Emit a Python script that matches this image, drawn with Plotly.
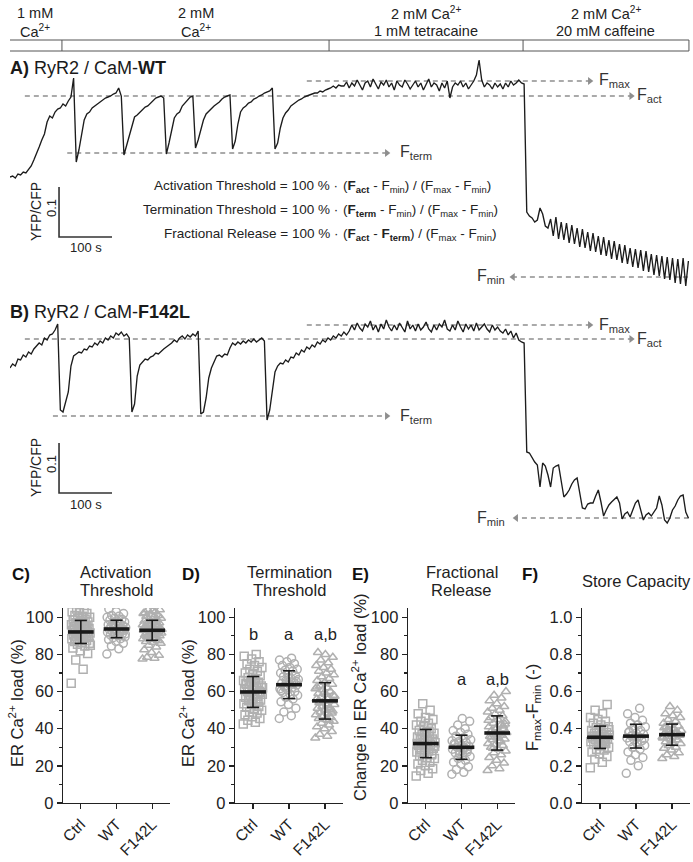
import numpy as np
import plotly.graph_objects as go

W, H = 693, 862
FONT = "Liberation Sans, Arial, Helvetica, sans-serif"

# ============================ DATA ============================
sample_interval_s = 5.0

# YFP/CFP ratio, RyR2 / CaM-WT (panel A)
ratio_wt = [
    1.046, 1.048, 1.044, 1.052, 1.050, 1.056, 1.054, 1.062, 1.068, 1.080,
    1.092, 1.106, 1.120, 1.132, 1.156, 1.168, 1.164, 1.176, 1.182, 1.184,
    1.192, 1.188, 1.198, 1.206, 1.244, 1.076, 1.100, 1.128, 1.160, 1.172,
    1.176, 1.184, 1.188, 1.192, 1.196, 1.200, 1.204, 1.206, 1.208, 1.212,
    1.214, 1.224, 1.208, 1.090, 1.108, 1.126, 1.144, 1.166, 1.170, 1.176,
    1.180, 1.186, 1.188, 1.194, 1.198, 1.204, 1.206, 1.208, 1.204, 1.092,
    1.114, 1.140, 1.164, 1.172, 1.176, 1.188, 1.194, 1.200, 1.206, 1.208,
    1.104, 1.120, 1.140, 1.160, 1.172, 1.178, 1.184, 1.188, 1.192, 1.196,
    1.202, 1.206, 1.208, 1.210, 1.102, 1.118, 1.152, 1.176, 1.184, 1.188,
    1.194, 1.196, 1.202, 1.204, 1.208, 1.210, 1.214, 1.216, 1.218, 1.224,
    1.102, 1.114, 1.144, 1.164, 1.174, 1.180, 1.188, 1.192, 1.196, 1.200,
    1.202, 1.206, 1.208, 1.210, 1.212, 1.214, 1.214, 1.218, 1.216, 1.220,
    1.222, 1.224, 1.228, 1.224, 1.230, 1.228,
    1.228, 1.236, 1.224, 1.234, 1.228, 1.240, 1.230, 1.220, 1.234, 1.238,
    1.226, 1.242, 1.232, 1.222, 1.236, 1.230, 1.240, 1.226, 1.234, 1.220,
    1.238, 1.230, 1.226, 1.240, 1.232, 1.222, 1.230, 1.238, 1.226, 1.234,
    1.220, 1.230, 1.242, 1.226, 1.234, 1.230, 1.218, 1.234, 1.224, 1.238,
    1.204, 1.226, 1.234, 1.230, 1.238, 1.226, 1.234, 1.222, 1.230, 1.238,
    1.250, 1.280, 1.240, 1.226, 1.234, 1.230, 1.222, 1.234, 1.226, 1.232,
    1.222, 1.234, 1.226, 1.238, 1.230, 1.234, 1.240, 1.234,
    1.232, 0.976,
    0.968, 0.964, 0.956, 0.960, 0.984, 0.972, 0.948, 0.944,
    0.962, 0.928, 0.966, 0.922, 0.956, 0.920, 0.954, 0.914, 0.950, 0.912,
    0.944, 0.906, 0.942, 0.904, 0.936, 0.898, 0.934, 0.896, 0.928, 0.890,
    0.926, 0.888, 0.920, 0.882, 0.918, 0.880, 0.912, 0.874, 0.910, 0.872,
    0.904, 0.866, 0.902, 0.864, 0.900, 0.858, 0.898, 0.856, 0.892, 0.850,
    0.890, 0.848, 0.888, 0.842, 0.886, 0.840, 0.884, 0.834, 0.882, 0.832,
    0.884, 0.828, 0.878,
]

# YFP/CFP ratio, RyR2 / CaM-F142L (panel B)
ratio_f142l = [
    1.150, 1.158, 1.154, 1.168, 1.166, 1.176, 1.172, 1.182, 1.178, 1.188,
    1.194, 1.200, 1.196, 1.210, 1.206, 1.216, 1.218, 1.226, 1.238, 1.066,
    1.062, 1.082, 1.102, 1.154, 1.174, 1.178, 1.182, 1.180, 1.188, 1.186,
    1.194, 1.192, 1.200, 1.196, 1.204, 1.200, 1.210, 1.206, 1.214, 1.210,
    1.220, 1.216, 1.222, 1.214, 1.218, 1.210, 1.062, 1.078, 1.134, 1.156,
    1.162, 1.168, 1.166, 1.172, 1.174, 1.180, 1.178, 1.184, 1.188, 1.192,
    1.196, 1.200, 1.206, 1.202, 1.210, 1.214, 1.208, 1.216, 1.212, 1.218,
    1.214, 1.224, 1.058, 1.062, 1.090, 1.130, 1.150, 1.162, 1.174, 1.176,
    1.172, 1.178, 1.176, 1.190, 1.200, 1.196, 1.202, 1.198, 1.204, 1.200,
    1.206, 1.202, 1.208, 1.202, 1.206, 1.210, 1.204, 1.046, 1.066, 1.106,
    1.142, 1.154, 1.160, 1.158, 1.166, 1.162, 1.172, 1.170, 1.180, 1.176,
    1.186, 1.182, 1.192, 1.188, 1.196, 1.192, 1.202, 1.198, 1.206, 1.202,
    1.210, 1.206, 1.214, 1.210, 1.218, 1.214, 1.222, 1.216,
    1.224, 1.236, 1.226, 1.240, 1.230, 1.224, 1.238, 1.232, 1.244, 1.226,
    1.236, 1.222, 1.238, 1.228, 1.246, 1.232, 1.224, 1.236, 1.226, 1.240,
    1.232, 1.222, 1.244, 1.228, 1.236, 1.224, 1.238, 1.226, 1.232, 1.242,
    1.228, 1.222, 1.236, 1.226, 1.238, 1.232, 1.246, 1.228, 1.224, 1.236,
    1.226, 1.244, 1.232, 1.222, 1.238, 1.228, 1.236, 1.224, 1.240, 1.226,
    1.232, 1.238, 1.228, 1.222, 1.236, 1.226, 1.232, 1.224, 1.220, 1.228,
    1.216, 1.224, 1.210, 1.220, 1.206, 1.202,
    1.200, 0.982,
    0.980, 0.970, 0.962, 0.956, 0.912, 0.960, 0.954, 0.936, 0.912, 0.950,
    0.954, 0.956, 0.920, 0.892, 0.898, 0.906, 0.918, 0.926, 0.930, 0.896,
    0.870, 0.868, 0.878, 0.880, 0.880, 0.894, 0.906, 0.882, 0.854, 0.866,
    0.876, 0.882, 0.888, 0.892, 0.880, 0.848, 0.858, 0.862, 0.852, 0.866,
    0.880, 0.886, 0.866, 0.846, 0.856, 0.860, 0.854, 0.862, 0.870, 0.894,
    0.876, 0.846, 0.840, 0.850, 0.866, 0.874, 0.886, 0.894, 0.896, 0.862,
    0.850,
]

level_names = ["max", "act", "term", "min"]
levels_wt = [1.238, 1.208, 1.094, 0.846]
levels_f142l = [1.236, 1.208, 1.054, 0.850]

solution_edges_s = [-2, 98, 602, 968, 1281]
solution_line1 = ["1 mM", "2 mM", "2 mM Ca<sup>2+</sup>", "2 mM Ca<sup>2+</sup>"]
solution_line2 = ["Ca<sup>2+</sup>", "Ca<sup>2+</sup>", "1 mM tetracaine", "20 mM caffeine"]

scale_time_s = 100
scale_ratio = 0.1

groups = ["Ctrl", "WT", "F142L"]

act_ctrl = [64.5, 72, 77, 80.5, 82, 83.5, 84.5, 85.5, 86, 86.5, 87, 87.5, 88, 88.5, 89, 89.5,
            90, 90, 90.5, 91, 91, 91.5, 92, 92, 92.5, 93, 93, 93.5, 94, 94, 94.5, 95, 95,
            95.5, 96, 96.5, 97, 97.5, 98, 98.5, 99, 99.5, 100, 100.5, 101, 102, 102.5, 103,
            104, 104.5, 89.5, 91.5, 93.5, 95.5, 97, 85, 100, 88]
act_wt = [80.2, 83, 84.5, 86, 87, 88, 88.5, 89, 89.5, 90, 90.5, 91, 91.5, 92, 92, 92.5, 93,
          93, 93.5, 94, 94, 94.5, 95, 95, 95.5, 96, 96, 96.5, 97, 97.5, 98, 98.5, 99, 99.5,
          100, 100.5, 101, 102, 103, 104.5, 93, 95, 91, 97]
act_f142l = [77.5, 78, 78.5, 79.5, 81, 82.5, 84, 85, 86, 86.5, 87, 87.5, 88, 88.5, 89, 89.5,
             90, 90, 90.5, 91, 91, 91.5, 92, 92, 92.5, 93, 93, 93.5, 94, 94, 94.5, 95, 95,
             95.5, 96, 96, 96.5, 97, 97.5, 98, 98.5, 99, 99.5, 100, 100.5, 101, 101.5, 102,
             103, 104, 104, 103.5, 102.5, 99, 96, 93.5, 91.5, 89.5, 87.5, 90.5, 94.5, 97.5]

term_ctrl = [42.5, 43.5, 44.5, 45.5, 46.5, 47.5, 48.5, 49, 50, 50.5, 51.5, 52, 53, 53.5, 54,
             55, 55.5, 56, 57, 57.5, 58, 58.5, 59, 60, 60, 60.5, 61, 62, 62.5, 63, 63.5, 64,
             65, 65.5, 66, 67, 67.5, 68.5, 69, 70, 71, 72, 73, 74, 75, 76, 77.5, 79, 80,
             56.5, 59.5, 61.5, 64.5, 54.5, 58, 62, 66.5]
term_wt = [45.5, 47, 49, 51, 53, 54.5, 56, 57, 58, 58.5, 59.5, 60, 61, 61.5, 62, 63, 63.5,
           64, 64.5, 65, 66, 66.5, 67, 68, 68.5, 69, 70, 71, 71.5, 72, 73, 74, 75, 76, 77, 78,
           62.5, 65.5, 67.5, 60.5]
term_f142l = [35, 36, 37, 38.5, 40, 41, 42, 43, 44, 45, 45.5, 46, 47, 47.5, 48, 49, 49.5, 50,
              51, 51.5, 52, 53, 53.5, 54, 55, 55, 56, 56.5, 57, 58, 58.5, 59, 60, 61, 61.5,
              62, 63, 64, 65, 66, 67, 68, 69, 70, 71, 72, 73, 74, 75.5, 77, 78.5, 80, 81,
              50.5, 46.5, 57.5, 52.5, 54.5, 48.5, 59.5, 62.5, 44.5]

frac_ctrl = [14.5, 16, 17.5, 18.5, 20, 21, 22, 23, 24, 24.5, 25.5, 26, 27, 27.5, 28, 29,
             29.5, 30, 31, 31.5, 32, 32.5, 33, 34, 34.5, 35, 35.5, 36, 37, 37.5, 38, 39, 40,
             41, 42, 43, 44, 45, 46, 48, 50, 53.5, 30.5, 33.5, 28.5, 26.5, 36.5, 32, 38.5]
frac_wt = [15.5, 16.5, 18, 19.5, 21, 22, 23, 24, 25, 26, 27, 27.5, 28, 29, 29.5, 30, 30.5,
           31, 32, 32.5, 33, 34, 35, 36, 37, 38, 39, 40, 42, 44, 45.5, 31.5, 28.5, 26.5,
           33.5, 30]
frac_f142l = [17.5, 18.5, 20, 21.5, 23, 24.5, 26, 27, 28, 29, 30, 31, 31.5, 32, 33, 34, 34.5,
              35, 36, 36.5, 37, 38, 38.5, 39, 40, 40.5, 41, 42, 43, 44, 45, 46, 47, 48, 49,
              50, 51, 52, 53.5, 55, 56.5, 58, 60, 37.5, 35.5, 41.5, 39.5, 44.5, 33.5, 29.5,
              42.5, 36]

cap_ctrl = [0.19, 0.22, 0.235, 0.25, 0.265, 0.275, 0.285, 0.29, 0.30, 0.31, 0.315, 0.32,
            0.325, 0.33, 0.335, 0.34, 0.345, 0.35, 0.35, 0.355, 0.36, 0.365, 0.37, 0.375,
            0.38, 0.385, 0.39, 0.40, 0.405, 0.41, 0.42, 0.43, 0.44, 0.45, 0.46, 0.48, 0.50,
            0.53, 0.345, 0.36, 0.33, 0.375, 0.395]
cap_wt = [0.16, 0.20, 0.23, 0.245, 0.26, 0.275, 0.29, 0.30, 0.31, 0.32, 0.33, 0.335, 0.34,
          0.35, 0.355, 0.36, 0.37, 0.375, 0.38, 0.39, 0.40, 0.41, 0.42, 0.43, 0.445, 0.46,
          0.48, 0.51, 0.365, 0.345, 0.325, 0.385]
cap_f142l = [0.24, 0.25, 0.26, 0.27, 0.285, 0.295, 0.30, 0.31, 0.32, 0.325, 0.33, 0.34,
             0.345, 0.35, 0.355, 0.36, 0.365, 0.37, 0.375, 0.38, 0.385, 0.39, 0.40, 0.41,
             0.415, 0.42, 0.43, 0.44, 0.45, 0.46, 0.47, 0.48, 0.50, 0.52, 0.355, 0.375,
             0.395, 0.365, 0.335, 0.405]

act_mean = [92.1, 93.7, 93.0]
act_sd = [6.2, 4.7, 5.4]
term_mean = [59.8, 63.7, 55.0]
term_sd = [8.3, 7.5, 9.8]
frac_mean = [32.0, 30.0, 37.7]
frac_sd = [7.6, 6.5, 9.2]
cap_mean = [0.354, 0.360, 0.368]
cap_sd = [0.060, 0.064, 0.057]

term_letters = ["b", "a", "a,b"]
frac_letters = ["", "a", "a,b"]

# ============================ FIGURE ============================
fig = go.Figure()


def px_x(px):
    return px / W


def px_y(py):
    return 1 - py / H


def annot(text, x, y, size=14, xanchor="center", yanchor="middle", angle=0,
          color="#222", xref="paper", yref="paper"):
    fig.add_annotation(text=text, x=x, y=y, xref=xref, yref=yref, showarrow=False,
                       xanchor=xanchor, yanchor=yanchor, textangle=angle,
                       font=dict(family=FONT, size=size, color=color))


T_RANGE = [0, 1283]
V_RANGE = [0.816, 1.29]
DASH_COL = "#8e8e8e"
TRACE_COL = "#1c1c1c"

# layout spans of the dashed level arrows (start, tip) and label x, in seconds
span_wt = {"max": (560, 1094), "act": (28, 1172), "term": (108, 711), "min": (1279, 949)}
span_f142l = {"max": (560, 1094), "act": (28, 1172), "term": (81, 711), "min": (1281, 955)}
label_x = {"max": 1107, "act": 1179, "term": 732, "min": 938}

trace_panels = [
    dict(ax="", data=ratio_wt, levels=levels_wt, top=55, bottom=292, spans=span_wt,
         bar_y0=0.926, title="<b>A)</b> RyR2 / CaM-<b>WT</b>", title_py=68,
         ylab_py=212, sb_py=248),
    dict(ax="2", data=ratio_f142l, levels=levels_f142l, top=298, bottom=535, spans=span_f142l,
         bar_y0=0.900, title="<b>B)</b> RyR2 / CaM-<b>F142L</b>", title_py=312,
         ylab_py=468, sb_py=504),
]

for p in trace_panels:
    ax = p["ax"]
    xa, ya = "x" + ax, "y" + ax
    fig.update_layout(**{
        "xaxis" + ax: dict(domain=[px_x(10), px_x(690)], range=T_RANGE, visible=False,
                           anchor=ya, fixedrange=True, automargin=False),
        "yaxis" + ax: dict(domain=[px_y(p["bottom"]), px_y(p["top"])], range=V_RANGE,
                           visible=False, anchor=xa, fixedrange=True, automargin=False),
    })
    # dashed level lines with arrow heads
    for name, lev in zip(level_names, p["levels"]):
        t0, t1 = p["spans"][name]
        fig.add_trace(go.Scatter(x=[t0, t1], y=[lev, lev], mode="lines", xaxis=xa, yaxis=ya,
                                 line=dict(color=DASH_COL, width=1.6, dash="5px,4px"),
                                 hoverinfo="skip"))
        sym = "triangle-right" if t1 > t0 else "triangle-left"
        fig.add_trace(go.Scatter(x=[t1], y=[lev], mode="markers", xaxis=xa, yaxis=ya,
                                 marker=dict(symbol=sym, size=7, color=DASH_COL),
                                 hoverinfo="skip"))
        anchor = "left" if name != "min" else "right"
        annot(f"F<sub>{name}</sub>", label_x[name], lev, size=16, xanchor=anchor,
              yanchor="middle", color="#333", xref=xa, yref=ya)
    # trace
    t = np.arange(len(p["data"])) * sample_interval_s
    fig.add_trace(go.Scatter(x=t, y=p["data"], mode="lines", xaxis=xa, yaxis=ya,
                             line=dict(color=TRACE_COL, width=1.35), hoverinfo="skip"))
    # scale bar
    t_sb = 92.5
    fig.add_trace(go.Scatter(x=[t_sb, t_sb, t_sb + scale_time_s],
                             y=[p["bar_y0"] + scale_ratio, p["bar_y0"], p["bar_y0"]],
                             mode="lines", xaxis=xa, yaxis=ya,
                             line=dict(color="#333", width=1.6), hoverinfo="skip"))
    annot("YFP/CFP", px_x(36), px_y(p["ylab_py"]), size=14, angle=-90)
    annot("0.1", px_x(51), px_y(p["ylab_py"] - 4), size=13, angle=-90)
    annot("100 s", px_x(86), px_y(p["sb_py"]), size=13)
    annot(p["title"], px_x(8), px_y(p["title_py"]), size=18, xanchor="left", color="#1a1a1a")

# top solution bar (on the time axis of panel A)
fig.add_shape(type="rect", xref="x", yref="paper", x0=solution_edges_s[0],
              x1=solution_edges_s[-1], y0=px_y(51), y1=px_y(40),
              line=dict(color="#555", width=1))
for e in solution_edges_s[1:-1]:
    fig.add_shape(type="line", xref="x", yref="paper", x0=e, x1=e, y0=px_y(51), y1=px_y(40),
                  line=dict(color="#555", width=1))
for i in range(4):
    xc = (solution_edges_s[i] + solution_edges_s[i + 1]) / 2
    fig.add_annotation(text=solution_line1[i], x=xc, y=px_y(13), xref="x", yref="paper",
                       showarrow=False, xanchor="center", yanchor="middle",
                       font=dict(family=FONT, size=14.5, color="#222"))
    fig.add_annotation(text=solution_line2[i], x=xc, y=px_y(31), xref="x", yref="paper",
                       showarrow=False, xanchor="center", yanchor="middle",
                       font=dict(family=FONT, size=14.5, color="#222"))

# formulas
formula_left = ["Activation Threshold = 100 % ·",
                "Termination Threshold = 100 % ·",
                "Fractional Release = 100 % ·"]
formula_right = [
    "(<b>F</b><sub><b>act</b></sub> - F<sub>min</sub>) / (F<sub>max</sub> - F<sub>min</sub>)",
    "(<b>F</b><sub><b>term</b></sub> - F<sub>min</sub>) / (F<sub>max</sub> - F<sub>min</sub>)",
    "(<b>F</b><sub><b>act</b></sub> - <b>F</b><sub><b>term</b></sub>) / (F<sub>max</sub> - F<sub>min</sub>)",
]
for k, py in enumerate([185, 209, 233]):
    annot(formula_left[k], px_x(340), px_y(py - 9), size=13.5, xanchor="right", yanchor="top")
    annot(formula_right[k], px_x(341), px_y(py - 9), size=13.5, xanchor="left", yanchor="top")

# ---------------- scatter panels ----------------
MARK_COL = "#b0b0b0"
symbols = ["square-open", "circle-open", "triangle-up-open"]


def jitter(n, hw=0.27):
    return np.array([((k * 0.6180339887) % 1.0 - 0.5) * 2 * hw for k in range(n)])


scatter_panels = [
    dict(n=3, x0=63, x1=170, data=[act_ctrl, act_wt, act_f142l], mean=act_mean, sd=act_sd,
         yr=[0, 105], dt=20, minor=[10, 30, 50, 70, 90], fmt="", letters=None, let_y=None,
         letter="<b>C)</b>", lx=10, title=["Activation", "Threshold"],
         ylab="ER Ca<sup>2+</sup> load (%)", ylx=16, yly=703),
    dict(n=4, x0=235, x1=343, data=[term_ctrl, term_wt, term_f142l], mean=term_mean,
         sd=term_sd, yr=[0, 105], dt=20, minor=[10, 30, 50, 70, 90], fmt="",
         letters=term_letters, let_y=91, letter="<b>D)</b>", lx=180,
         title=["Termination", "Threshold"], ylab="ER Ca<sup>2+</sup> load (%)", ylx=187,
         yly=703),
    dict(n=5, x0=408, x1=515, data=[frac_ctrl, frac_wt, frac_f142l], mean=frac_mean,
         sd=frac_sd, yr=[0, 105], dt=20, minor=[10, 30, 50, 70, 90], fmt="",
         letters=frac_letters, let_y=67, letter="<b>E)</b>", lx=350,
         title=["Fractional", "Release"], ylab="Change in ER Ca<sup>2+</sup> load (%)",
         ylx=359, yly=697),
    dict(n=6, x0=582, x1=690, data=[cap_ctrl, cap_wt, cap_f142l], mean=cap_mean, sd=cap_sd,
         yr=[0, 1.05], dt=0.2, minor=[0.1, 0.3, 0.5, 0.7, 0.9], fmt=".1f", letters=None,
         let_y=None, letter="<b>F)</b>", lx=520, title=["Store Capacity"],
         ylab="F<sub>max</sub>-F<sub>min</sub> (-)", ylx=533, yly=708),
]

for p in scatter_panels:
    n = p["n"]
    xa, ya = f"x{n}", f"y{n}"
    fig.update_layout(**{
        f"xaxis{n}": dict(domain=[px_x(p["x0"]), px_x(p["x1"])], range=[-0.5, 2.5], anchor=ya,
                          tickvals=[0, 1, 2], ticktext=groups, tickangle=-45,
                          ticks="outside", ticklen=5, tickwidth=1.3, tickcolor="#222",
                          showline=True, linecolor="#222", linewidth=1.3, showgrid=False,
                          zeroline=False, fixedrange=True, automargin=False,
                          tickfont=dict(family=FONT, size=15.5, color="#222")),
        f"yaxis{n}": dict(domain=[px_y(803), px_y(608)], range=p["yr"], anchor=xa,
                          dtick=p["dt"], tick0=0, tickformat=p["fmt"],
                          ticks="outside", ticklen=5, tickwidth=1.3, tickcolor="#222",
                          showline=True, linecolor="#222", linewidth=1.3, showgrid=False,
                          zeroline=False, fixedrange=True, automargin=False,
                          minor=dict(tickvals=p["minor"], ticks="outside", ticklen=3,
                                     tickwidth=1.2, tickcolor="#222"),
                          tickfont=dict(family=FONT, size=16.5, color="#222")),
    })
    for gi, vals in enumerate(p["data"]):
        xs = gi + jitter(len(vals))
        fig.add_trace(go.Scatter(x=xs, y=vals, mode="markers", xaxis=xa, yaxis=ya,
                                 marker=dict(symbol=symbols[gi], size=8, color=MARK_COL,
                                             line=dict(width=1.5, color=MARK_COL)),
                                 hoverinfo="skip"))
    # mean +- SD
    ex, ey, mx, my = [], [], [], []
    for gi, (m, s) in enumerate(zip(p["mean"], p["sd"])):
        ex += [gi, gi, None, gi - 0.17, gi + 0.17, None, gi - 0.17, gi + 0.17, None]
        ey += [m - s, m + s, None, m + s, m + s, None, m - s, m - s, None]
        mx += [gi - 0.36, gi + 0.36, None]
        my += [m, m, None]
    fig.add_trace(go.Scatter(x=ex, y=ey, mode="lines", xaxis=xa, yaxis=ya,
                             line=dict(color="#1a1a1a", width=1.6), hoverinfo="skip"))
    fig.add_trace(go.Scatter(x=mx, y=my, mode="lines", xaxis=xa, yaxis=ya,
                             line=dict(color="#1a1a1a", width=3.6), hoverinfo="skip"))
    if p["letters"]:
        for gi, L in enumerate(p["letters"]):
            if L:
                annot(L, gi, p["let_y"], size=16.5, xref=xa, yref=ya)
    # titles
    xc = px_x((p["x0"] + p["x1"]) / 2)
    if len(p["title"]) == 2:
        annot(p["title"][0], xc, px_y(572), size=16.5)
        annot(p["title"][1], xc, px_y(590), size=16.5)
    else:
        annot(p["title"][0], xc, px_y(581), size=16.5)
    annot(p["letter"], px_x(p["lx"]), px_y(574), size=17, xanchor="left", color="#111")
    annot(p["ylab"], px_x(p["ylx"]), px_y(p["yly"]), size=16.5, angle=-90)

fig.update_layout(width=W, height=H, margin=dict(l=0, r=0, t=0, b=0, autoexpand=False),
                  paper_bgcolor="white", plot_bgcolor="white", showlegend=False,
                  font=dict(family=FONT, color="#222"))

fig.write_html("out.html", config={"displayModeBar": False, "staticPlot": True},
               post_script="document.body.style.margin='0';document.body.style.overflow='hidden';")
